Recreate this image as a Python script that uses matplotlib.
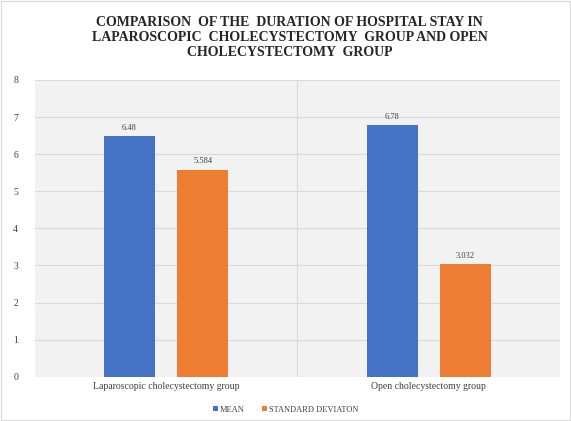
import numpy as np
import matplotlib
matplotlib.use("Agg")
import matplotlib.pyplot as plt

# chart data
groups = ["Laparoscopic cholecystectomy group", "Open cholecystectomy group"]
mean_vals = [6.48, 6.78]
sd_vals = [5.584, 3.032]
series_names = ["MEAN", "STANDARD DEVIATON"]
bar_labels_mean = ["6.48", "6.78"]
bar_labels_sd = ["5.584", "3.032"]

plt.rcParams['font.family'] = ['Liberation Serif', 'DejaVu Serif']

fig = plt.figure(figsize=(5.71, 4.21), dpi=100)
ax = fig.add_axes([0.061, 0.105, 0.92, 0.705])
ax.set_facecolor("#f2f2f2")

x = np.arange(len(groups))
w = 0.195
gap = 0.084
b1 = ax.bar(x - (w + gap) / 2, mean_vals, w, color="#4472C4", label=series_names[0], zorder=3)
b2 = ax.bar(x + (w + gap) / 2, sd_vals, w, color="#ED7D31", label=series_names[1], zorder=3)

for bars, labs in [(b1, bar_labels_mean), (b2, bar_labels_sd)]:
    for b, t in zip(bars, labs):
        ax.text(b.get_x() + b.get_width() / 2, b.get_height() + 0.12, t,
                ha="center", va="bottom", fontsize=6, color="#404040")

ax.set_xlim(-0.5, 1.5)
ax.set_ylim(0, 8)
ax.set_yticks(range(0, 9))
ax.yaxis.grid(True, color="#d9d9d9", linewidth=0.8, zorder=0)
ax.axvline(0.5, color="#d9d9d9", linewidth=0.8, zorder=0)
ax.set_xticks(x)
ax.set_xticklabels(groups, fontsize=7, color="#404040")
ax.tick_params(axis="y", labelsize=7, labelcolor="#404040", length=0, pad=12)
ax.tick_params(axis="x", length=0, pad=4)
for s in ax.spines.values():
    s.set_visible(False)

fig.text(0.507, 0.962,
         "COMPARISON  OF THE  DURATION OF HOSPITAL STAY IN\n"
         "LAPAROSCOPIC  CHOLECYSTECTOMY  GROUP AND OPEN\n"
         "CHOLECYSTECTOMY  GROUP",
         ha="center", va="top", fontsize=10, fontweight="bold",
         linespacing=1.2, color="#262626")

fig.legend(loc="lower center", bbox_to_anchor=(0.5, 0.0), ncol=2, frameon=False,
           fontsize=6, handlelength=0.6, handleheight=0.6, handletextpad=0.3,
           columnspacing=2.0, labelcolor="#404040")

fig.patches.append(plt.Rectangle((0.002, 0.002), 0.996, 0.996, transform=fig.transFigure,
                                 fill=False, edgecolor="#d9d9d9", linewidth=0.8))

fig.savefig("out.png", dpi=100)
